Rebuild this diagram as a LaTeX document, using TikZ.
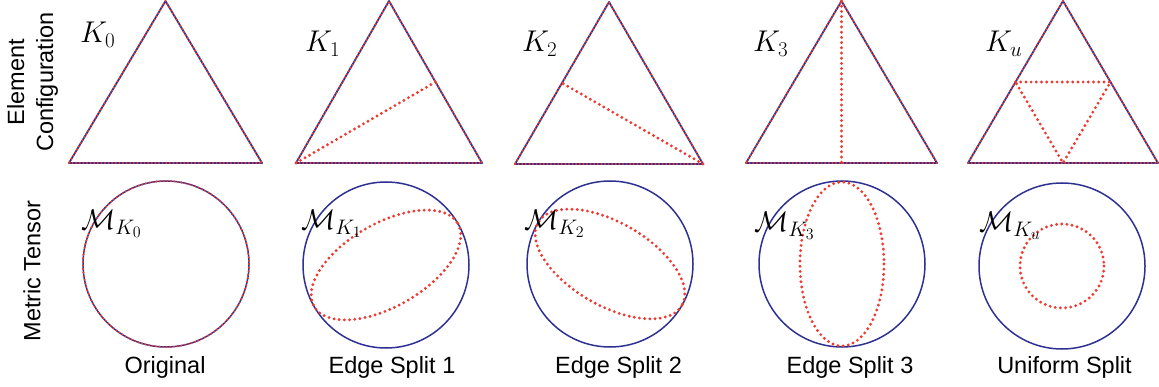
\RequirePackage{fix-cm}
\documentclass[tikz,border=0pt]{standalone}
\usepackage{xcolor}
\usepackage{amsmath}
\usepackage{fontspec}
\setsansfont{Liberation Sans}
\usepackage{tikz}

\DeclareMathSizes{28.5}{28.5}{21}{16}
\definecolor{metblue}{HTML}{2E3192}
\definecolor{splitred}{HTML}{EE3B32}
\tikzset{
  outline/.style={draw=metblue, line width=1.8pt},
  overdots/.style={draw=splitred, line width=2.2pt, line cap=round, dash pattern=on 0pt off 3.6pt},
  splitdots/.style={draw=splitred, line width=3.2pt, line cap=round, dash pattern=on 0pt off 5.2pt},
  klabel/.style={anchor=base west, inner sep=0pt, font=\fontsize{30}{36}\selectfont},
  mlabel/.style={anchor=base west, inner sep=0pt, font=\fontsize{28.5}{34}\selectfont},
  rowlabel/.style={rotate=90, align=center, inner sep=0pt, font=\sffamily\fontsize{23.5}{29}\selectfont},
  caption/.style={anchor=base, inner sep=0pt, font=\sffamily\fontsize{23.5}{28}\selectfont}
}

\begin{document}
\begin{tikzpicture}[x=1pt, y=-1pt]
\useasboundingbox (0,0) rectangle (1159,387);
% element configuration
\coordinate (0a) at (69, 163);
\coordinate (0b) at (262, 163);
\coordinate (0c) at (165.5, 1);
\coordinate (1a) at (296, 163);
\coordinate (1b) at (482, 163);
\coordinate (1c) at (389, 1);
\coordinate (1m) at (435.5, 82);
\coordinate (2a) at (515, 164);
\coordinate (2b) at (703, 164);
\coordinate (2c) at (609, 2);
\coordinate (2m) at (562, 83);
\coordinate (3a) at (746, 163);
\coordinate (3b) at (937, 163);
\coordinate (3c) at (841.5, 1);
\coordinate (3m) at (841.5, 163);
\coordinate (4a) at (968, 163);
\coordinate (4b) at (1158, 163);
\coordinate (4c) at (1063, 1);
\coordinate (4l) at (1015.5, 82);
\coordinate (4r) at (1110.5, 82);
\coordinate (4m) at (1063, 163);
\foreach \k in {0,...,4}{
  \draw[outline, line join=round] (\k a) -- (\k b) -- (\k c) -- cycle;
  \draw[overdots] (\k a) -- (\k b) -- (\k c) -- cycle;
}
\draw[splitdots] (1a) -- (1m);
\draw[splitdots] (2b) -- (2m);
\draw[splitdots] (3c) -- (3m);
\draw[splitdots] (4l) -- (4r) -- (4m) -- cycle;
\node[klabel] (k0) at (80, 43) {$K_0$};
\node[klabel] (k1) at (305, 52) {$K_1$};
\node[klabel] (k2) at (522, 52) {$K_2$};
\node[klabel] (k3) at (753, 52) {$K_3$};
\node[klabel] (ku) at (985, 52) {$K_u$};
% metric tensor
\coordinate (c0) at (166, 264);
\coordinate (c1) at (386, 265);
\coordinate (c2) at (610, 264);
\coordinate (c3) at (842, 264);
\coordinate (c4) at (1062, 266);
\foreach \k in {0,...,4}{
  \draw[outline, line width=1.5pt] (c\k) circle (83);
}
\draw[overdots] (c0) circle (83);
\draw[splitdots, rotate around={30:(c1)}] (c1) ellipse [x radius=83, y radius=41.5];
\draw[splitdots, rotate around={-30:(c2)}] (c2) ellipse [x radius=83, y radius=41.5];
\draw[splitdots] (c3) ellipse [x radius=42, y radius=82];
\draw[splitdots] (c4) circle (42);
\node[mlabel] (m0) at (81, 230) {$\mathcal{M}_{K_0}$};
\node[mlabel] (m1) at (301, 230) {$\mathcal{M}_{K_1}$};
\node[mlabel] (m2) at (524, 230) {$\mathcal{M}_{K_2}$};
\node[mlabel] (m3) at (754, 232) {$\mathcal{M}_{K_3}$};
\node[mlabel] (mu) at (979, 232) {$\mathcal{M}_{K_u}$};
% row and column titles
\node[rowlabel] (row0) at (32.5, 82) {Element\\Configuration};
\node[rowlabel] (row1) at (32, 271) {Metric Tensor};
\node[caption] (cap0) at (165, 373) {Original};
\node[caption] (cap1) at (392, 373) {Edge Split 1};
\node[caption] (cap2) at (618.5, 373) {Edge Split 2};
\node[caption] (cap3) at (850, 373) {Edge Split 3};
\node[caption] (cap4) at (1064.5, 373) {Uniform Split};
\end{tikzpicture}
\end{document}
